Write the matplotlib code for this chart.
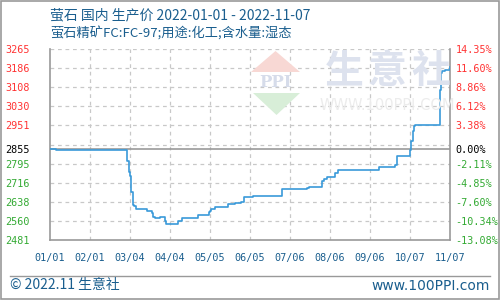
import numpy as np
import pandas as pd
import matplotlib
matplotlib.use("Agg")
import matplotlib.pyplot as plt
from matplotlib.patches import Polygon, Rectangle
from matplotlib.lines import Line2D

plt.rcParams['font.family'] = ['Noto Sans CJK SC', 'DejaVu Sans']

# 数据
dates = ["2022-01-01", "2022-01-06", "2022-03-02", "2022-03-03", "2022-03-04",
         "2022-03-05", "2022-03-06", "2022-03-07", "2022-03-09", "2022-03-17",
         "2022-03-21", "2022-03-22", "2022-03-23", "2022-03-27", "2022-03-31",
         "2022-04-01", "2022-04-10", "2022-04-13", "2022-04-26", "2022-05-04",
         "2022-05-05", "2022-05-06", "2022-05-09", "2022-05-19", "2022-05-24",
         "2022-05-29", "2022-05-31", "2022-06-07", "2022-06-30", "2022-07-19",
         "2022-07-21", "2022-07-31", "2022-08-01", "2022-08-04", "2022-08-10",
         "2022-08-12", "2022-09-13", "2022-09-25", "2022-09-27", "2022-10-07",
         "2022-10-08", "2022-10-09", "2022-10-10", "2022-10-11", "2022-10-30",
         "2022-10-31", "2022-11-01", "2022-11-03", "2022-11-07"]
prices = [2855, 2850, 2804, 2762, 2745,
          2680, 2626, 2622, 2608, 2602,
          2593, 2575, 2571, 2575, 2557,
          2548, 2557, 2570, 2584, 2594,
          2602, 2608, 2616, 2627, 2634,
          2638, 2657, 2663, 2690, 2694,
          2700, 2722, 2731, 2740, 2758,
          2767, 2781, 2790, 2826, 2852,
          2889, 2927, 2947, 2954, 3098,
          3166, 3173, 3180, 3192]

base_price = 2855
y_min, y_max = 2481, 3265
left_labels = [2481, 2560, 2638, 2716, 2795, 2855, 2951, 3030, 3108, 3186, 3265]
right_labels = ["-13.08%", "-10.34%", "-7.60%", "-4.85%", "-2.11%", "0.00%",
                "3.38%", "6.12%", "8.86%", "11.60%", "14.35%"]
x_ticks = ["2022-01-01", "2022-02-01", "2022-03-04", "2022-04-04", "2022-05-05",
           "2022-06-05", "2022-07-06", "2022-08-06", "2022-09-06", "2022-10-07",
           "2022-11-07"]
x_labels = ["01/01", "02/01", "03/04", "04/04", "05/05", "06/05", "07/06",
            "08/06", "09/06", "10/07", "11/07"]

title1 = "萤石 国内 生产价 2022-01-01 - 2022-11-07"
title2 = "萤石精矿FC:FC-97;用途:化工;含水量:湿态"

RED = "#ff3333"
GREEN = "#33aa33"
BLUE_TXT = "#1a5e8e"
GRID = "#c8c8c8"
LINE = "#3a9ad9"

d = pd.to_datetime(dates)
xt = pd.to_datetime(x_ticks)

fig = plt.figure(figsize=(5, 3), dpi=100)
fig.patch.set_facecolor("white")

# 外框
fig.add_artist(Rectangle((0.001, 0.003), 0.997, 0.995, transform=fig.transFigure,
                         fill=False, edgecolor="#999999", linewidth=1.2))
fig.add_artist(Line2D([10 / 500, 490 / 500], [1 - 275.5 / 300] * 2,
                      transform=fig.transFigure, color="#999999", linewidth=1))

# 水印
fig.add_artist(Polygon([[251 / 500, 1 - 72 / 300], [300 / 500, 1 - 72 / 300], [275.5 / 500, 1 - 51 / 300]],
                       closed=True, transform=fig.transFigure, facecolor="#f8d8d4", edgecolor="none"))
fig.add_artist(Polygon([[253 / 500, 1 - 93 / 300], [300 / 500, 1 - 93 / 300], [276.5 / 500, 1 - 115 / 300]],
                       closed=True, transform=fig.transFigure, facecolor="#d8eed8", edgecolor="none"))
fig.text(276 / 500, 1 - 83 / 300, "PPI", fontsize=12, color="#d6dcea", ha="center", va="center",
         fontweight="bold", family="DejaVu Serif")
for ch, cx in zip("生意社", [344, 387, 431]):
    fig.text(cx / 500, 1 - 71 / 300, ch, fontsize=28, color="#dde2ee", ha="center", va="center",
             fontweight="bold")
fig.text(387 / 500, 1 - 106 / 300, "WWW.100PPI.COM", fontsize=10.5, color="#ececec",
         ha="center", va="center", family="DejaVu Sans")

ax = fig.add_axes([50 / 500, 1 - 240 / 300, 400 / 500, 191 / 300])
ax.set_facecolor("none")

ax.plot(d, prices, drawstyle="steps-post", color=LINE, linewidth=1.2, zorder=3)

ax.set_xlim(xt[0], xt[-1])
ax.set_ylim(y_min, y_max)

# 网格
for gv in np.linspace(y_min, y_max, 11)[1:]:
    ax.axhline(gv, color=GRID, linestyle=(0, (3, 3)), linewidth=0.9, zorder=1)
for t in xt[1:-1]:
    ax.axvline(t, color=GRID, linestyle=(0, (3, 3)), linewidth=0.9, zorder=1)
ax.axhline(base_price, color="#999999", linewidth=1.2, zorder=2)

ax.spines["top"].set_visible(False)
for s in ["left", "bottom", "right"]:
    ax.spines[s].set_color("#999999")
    ax.spines[s].set_linewidth(1.2)

ax.set_xticks(xt)
ax.set_xticklabels(x_labels, fontsize=7.3, color=BLUE_TXT, family="DejaVu Sans Mono")
ax.set_yticks(left_labels)
ax.set_yticklabels([str(v) for v in left_labels], fontsize=7.3, family="DejaVu Sans Mono", ha="left")
ax.tick_params(axis="both", length=0)
ax.tick_params(axis="y", pad=32)
ax.tick_params(axis="x", pad=9)

ax2 = ax.twinx()
ax2.set_ylim(y_min, y_max)
ax2.set_yticks(left_labels)
ax2.set_yticklabels(right_labels, fontsize=7.3, family="DejaVu Sans Mono")
ax2.tick_params(axis="y", length=0, pad=4)
for s in ax2.spines.values():
    s.set_visible(False)

for lab1, lab2, v in zip(ax.get_yticklabels(), ax2.get_yticklabels(), left_labels):
    c = RED if v > base_price else ("black" if v == base_price else GREEN)
    lab1.set_color(c)
    lab2.set_color(c)

# 标题
fig.text(50 / 500, 1 - 15 / 300, title1, fontsize=10, color=BLUE_TXT, va="center", ha="left")
fig.text(50 / 500, 1 - 34 / 300, title2, fontsize=9.5, color=BLUE_TXT, va="center", ha="left")

# 页脚
fig.text(10 / 500, 1 - 285.5 / 300, "© 2022.11 生意社", fontsize=10, color=BLUE_TXT, va="center", ha="left")
fig.text(490 / 500, 1 - 285.5 / 300, "www.100PPI.com", fontsize=10, color=BLUE_TXT, va="center", ha="right",
         family="DejaVu Sans")

fig.savefig("out.png", dpi=100)
